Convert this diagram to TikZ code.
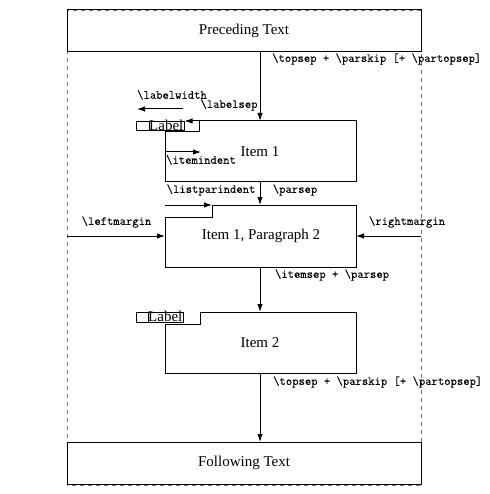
\documentclass[tikz,border=0pt]{standalone}
\usepackage{fontspec}
\setmainfont{Liberation Serif}
\setmonofont[FakeBold=0.2]{Latin Modern Mono}
\usetikzlibrary{arrows.meta}
\tikzset{
  boxtext/.style={font=\fontsize{15}{17}\selectfont, inner sep=0pt},
  cmd/.style={font=\fontsize{12.3}{14}\ttfamily, inner sep=0pt},
  bigbox/.style={draw, line width=1pt, minimum width=354pt, minimum height=42pt, inner sep=0pt, font=\fontsize{15}{17}\selectfont},
  outline/.style={draw, line width=1pt},
  conn/.style={line width=1pt, -{Latex[length=8pt,width=5.5pt]}},
  frame/.style={draw=black!55, line width=0.9pt, dash pattern=on 4pt off 4pt},
}
\begin{document}
\begin{tikzpicture}[x=1pt,y=-1pt]
\useasboundingbox (0,0) rectangle (489,494);
% dashed frame
\draw[frame] (67,10) rectangle (421,485);
% preceding / following
\node[bigbox] (prec) at (244,31) {Preceding Text};
\node[bigbox] (foll) at (244,463) {Following Text};
% item 1 shape
\draw[outline] (199,121) -- (356,121) -- (356,182) -- (165,182) -- (165,132) -- (199,132) -- cycle;
\draw[outline, line width=0.8pt] (136,121) rectangle (184,130);
\draw[outline, line width=0.8pt] (149,121) -- (149,130);
\node[boxtext, anchor=base west] (lab1) at (149,130.5) {Label};
\node[boxtext] (item1) at (260,152) {Item 1};
% paragraph 2 shape
\draw[outline] (212,205) -- (356,205) -- (356,267) -- (165,267) -- (165,217) -- (212,217) -- cycle;
\node[boxtext] (para2) at (261,236) {Item 1, Paragraph 2};
% item 2 shape
\draw[outline] (200,312) -- (356,312) -- (356,373) -- (165,373) -- (165,324) -- (200,324) -- cycle;
\draw[outline, line width=0.8pt] (136,312) rectangle (183,322);
\draw[outline, line width=0.8pt] (148,312) -- (148,322);
\node[boxtext, anchor=base west] (lab2) at (148,321.5) {Label};
\node[boxtext] (item2) at (260,343) {Item 2};
% coordinates
\coordinate (i1top) at (260,121);
\coordinate (i1bot) at (260,182);
\coordinate (p2top) at (260,205);
\coordinate (p2bot) at (260,267);
\coordinate (i2top) at (260,312);
\coordinate (i2bot) at (260,373);
\coordinate (precb) at (260,52);
\coordinate (follt) at (260,442);
\coordinate (lwR) at (183,109);
\coordinate (lwL) at (137,109);
\coordinate (lsR) at (199,121);
\coordinate (lsL) at (184.5,121);
\coordinate (iiL) at (165,152);
\coordinate (iiR) at (201,152);
\coordinate (lpL) at (165,205);
\coordinate (lpR) at (212,205);
\coordinate (lmL) at (67,236);
\coordinate (lmR) at (165,236);
\coordinate (rmR) at (421,236);
\coordinate (rmL) at (356,236);
% connectors
\draw[conn] (precb) -- (i1top);
\draw[conn] (i1bot) -- (p2top);
\draw[conn] (p2bot) -- (i2top);
\draw[conn] (i2bot) -- (follt);
\draw[conn] (lwR) -- (lwL);
\draw[conn] (lsR) -- (lsL);
\draw[conn] (iiL) -- (iiR);
\draw[conn] (lpL) -- (lpR);
\draw[conn] (lmL) -- (lmR);
\draw[conn] (rmR) -- (rmL);
% labels
\node[cmd, anchor=west] (ts1) at (272,59) {\string\topsep\ + \string\parskip\ [+ \string\partopsep]};
\node[cmd] (lw) at (172,95) {\string\labelwidth};
\node[cmd] (ls) at (229,105) {\string\labelsep};
\node[cmd] (ii) at (201,160) {\string\itemindent};
\node[cmd] (lp) at (211,190) {\string\listparindent};
\node[cmd] (ps) at (295,190) {\string\parsep};
\node[cmd] (lm) at (116.5,222) {\string\leftmargin};
\node[cmd] (rm) at (407,222) {\string\rightmargin};
\node[cmd] (isp) at (332,275) {\string\itemsep\ + \string\parsep};
\node[cmd, anchor=west] (ts2) at (273,382) {\string\topsep\ + \string\parskip\ [+ \string\partopsep]};
\end{tikzpicture}
\end{document}
